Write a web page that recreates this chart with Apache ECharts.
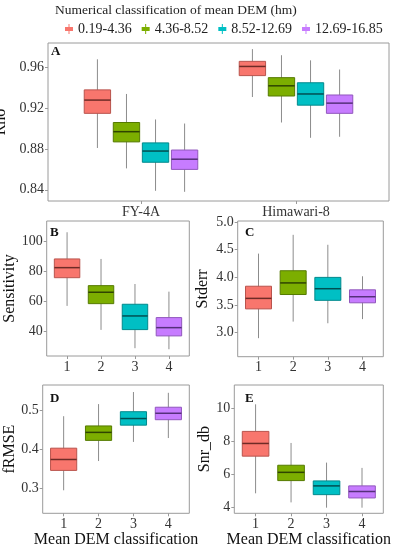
<!DOCTYPE html>
<html>
<head>
<meta charset="utf-8">
<script src="https://cdn.jsdelivr.net/npm/echarts@6.0.0/dist/echarts.min.js"></script>
<style>html,body{margin:0;padding:0;background:#fff;}#c{width:396px;height:550px;}</style>
</head>
<body>
<div id="c"></div>
<script>
// ---- data: [min, Q1, median, Q3, max] per DEM class ----
const classes = ['0.19-4.36', '4.36-8.52', '8.52-12.69', '12.69-16.85'];
const satellites = ['FY-4A', 'Himawari-8'];
const classTicks = [1, 2, 3, 4];

const rhoFY4A = [
  [0.881, 0.915, 0.928, 0.938, 0.968],
  [0.861, 0.887, 0.897, 0.906, 0.934],
  [0.839, 0.867, 0.878, 0.886, 0.909],
  [0.838, 0.860, 0.870, 0.879, 0.905]
];
const rhoHimawari = [
  [0.931, 0.952, 0.961, 0.966, 0.978],
  [0.906, 0.932, 0.942, 0.950, 0.972],
  [0.891, 0.923, 0.934, 0.945, 0.967],
  [0.892, 0.915, 0.925, 0.933, 0.958]
];
const sensitivity = [
  [56.7, 75.5, 82.2, 88.0, 105.8],
  [40.7, 58.2, 65.8, 70.2, 88.0],
  [28.5, 40.9, 50.0, 57.8, 71.3],
  [27.8, 36.7, 42.2, 48.9, 66.2]
];
const stderrVals = [
  [2.90, 3.43, 3.62, 3.84, 4.43],
  [3.20, 3.69, 3.90, 4.12, 4.77],
  [3.17, 3.585, 3.795, 4.00, 4.59],
  [3.245, 3.54, 3.65, 3.775, 4.02]
];
const frmse = [
  [0.296, 0.347, 0.375, 0.404, 0.486],
  [0.371, 0.424, 0.4445, 0.461, 0.517],
  [0.420, 0.463, 0.480, 0.4975, 0.548],
  [0.430, 0.477, 0.4935, 0.509, 0.546]
];
const snrdb = [
  [4.85, 7.10, 7.87, 8.60, 10.24],
  [4.30, 5.62, 6.12, 6.55, 7.90],
  [3.98, 4.77, 5.30, 5.60, 6.71],
  [3.98, 4.57, 4.96, 5.30, 6.39]
];

const rhoTicks = [0.84, 0.88, 0.92, 0.96];
const sensTicks = [40, 60, 80, 100];
const stderrTicks = [3.0, 3.5, 4.0, 4.5, 5.0];
const frmseTicks = [0.3, 0.4, 0.5];
const snrTicks = [4, 6, 8, 10];

// ---- styles ----
const fills = ['#F8766D', '#7CAE00', '#00BFC4', '#C77CFF'];
const borders = ['#B9544D', '#557A00', '#00898C', '#9157BD'];
const medians = ['#6E2B26', '#2F4400', '#004F52', '#55307A'];
const FONT = 'Liberation Serif';
const frameColor = '#9a9a9a';

function makeRender(boxW, ci) {
  return function (params, api) {
    const x = api.value(0);
    const mn = api.coord([x, api.value(1)]);
    const q1 = api.coord([x, api.value(2)]);
    const md = api.coord([x, api.value(3)]);
    const q3 = api.coord([x, api.value(4)]);
    const mx = api.coord([x, api.value(5)]);
    const w = api.size([boxW, 0])[0];
    const cx = mn[0];
    return {
      type: 'group',
      children: [
        { type: 'line', shape: { x1: cx, y1: mn[1], x2: cx, y2: mx[1] }, style: { stroke: '#8c8c8c', lineWidth: 1 } },
        { type: 'rect', shape: { x: cx - w / 2, y: q3[1], width: w, height: q1[1] - q3[1] }, style: { fill: fills[ci], stroke: borders[ci], lineWidth: 1 } },
        { type: 'line', shape: { x1: cx - w / 2, y1: md[1], x2: cx + w / 2, y2: md[1] }, style: { stroke: medians[ci], lineWidth: 1.5 } }
      ]
    };
  };
}

const grids = [
  { left: 48, top: 43, width: 341, height: 158 },
  { left: 46.7, top: 221, width: 142.6, height: 135 },
  { left: 237.7, top: 221, width: 145.6, height: 135.7 },
  { left: 42.7, top: 385, width: 146.6, height: 128.3 },
  { left: 234.3, top: 385, width: 149, height: 128.3 }
].map(g => Object.assign({ show: true, borderColor: frameColor, borderWidth: 1, outerBoundsMode: 'none', containLabel: false }, g));

function xAxis(idx, min, max, ticks, fmt, name) {
  return {
    type: 'value', gridIndex: idx, min: min, max: max,
    axisLine: { show: false },
    splitLine: { show: false },
    axisTick: { show: true, length: 3, lineStyle: { color: frameColor }, customValues: ticks },
    axisLabel: { fontFamily: FONT, fontSize: 14, color: '#333', margin: 4, customValues: ticks, formatter: fmt },
    name: name || '', nameLocation: 'middle', nameGap: 15,
    nameTextStyle: { fontFamily: FONT, fontSize: 16, color: '#111', verticalAlign: 'top' }
  };
}
function yAxis(idx, min, max, ticks, fmt, name, gap) {
  return {
    type: 'value', gridIndex: idx, min: min, max: max,
    axisLine: { show: false },
    splitLine: { show: false },
    axisTick: { show: true, length: 3, lineStyle: { color: frameColor }, customValues: ticks },
    axisLabel: { fontFamily: FONT, fontSize: 14, color: '#333', margin: 4, customValues: ticks, formatter: fmt },
    name: name, nameLocation: 'middle', nameGap: gap, nameRotate: 90,
    nameTextStyle: { fontFamily: FONT, fontSize: 16, color: '#111' }
  };
}

const classFmt = v => String(v);
const xAxes = [
  xAxis(0, 0.4, 2.6, [1, 2], v => satellites[Math.round(v) - 1]),
  xAxis(1, 0.4, 4.6, classTicks, classFmt),
  xAxis(2, 0.4, 4.6, classTicks, classFmt),
  xAxis(3, 0.4, 4.6, classTicks, classFmt, 'Mean DEM classification'),
  xAxis(4, 0.4, 4.6, classTicks, classFmt, 'Mean DEM classification')
];
const yAxes = [
  yAxis(0, 0.829, 0.984, rhoTicks, v => v.toFixed(2), 'Rho', 30),
  yAxis(1, 23.3, 113.3, sensTicks, v => String(v), 'Sensitivity', 27),
  yAxis(2, 2.565, 5.02, stderrTicks, v => v.toFixed(1), 'Stderr', 27),
  yAxis(3, 0.237, 0.566, frmseTicks, v => v.toFixed(1), 'fRMSE', 25),
  yAxis(4, 3.64, 11.41, snrTicks, v => String(v), 'Snr_db', 21)
];

const series = [];
const dodge = 0.1875;
classes.forEach((name, i) => {
  const off = (i - 1.5) * dodge;
  series.push({
    type: 'custom', name: name, xAxisIndex: 0, yAxisIndex: 0,
    itemStyle: { color: fills[i] },
    renderItem: makeRender(0.17, i),
    encode: { x: 0, y: [1, 2, 3, 4, 5] },
    data: [[1 + off].concat(rhoFY4A[i]), [2 + off].concat(rhoHimawari[i])]
  });
});
[sensitivity, stderrVals, frmse, snrdb].forEach((arr, k) => {
  classes.forEach((name, i) => {
    series.push({
      type: 'custom', name: name, xAxisIndex: k + 1, yAxisIndex: k + 1,
      itemStyle: { color: fills[i] },
      renderItem: makeRender(0.75, i),
      encode: { x: 0, y: [1, 2, 3, 4, 5] },
      data: [[classTicks[i]].concat(arr[i])]
    });
  });
});

const letters = [['A', 51, 52], ['B', 50, 233.5], ['C', 245, 233], ['D', 50, 399.5], ['E', 245, 399.5]];

const chart = echarts.init(document.getElementById('c'), null, { renderer: 'canvas' });
chart.setOption({
  animation: false,
  backgroundColor: '#fff',
  title: {
    text: 'Numerical classification of mean DEM (hm)', left: 50, top: -2,
    textStyle: { fontFamily: FONT, fontSize: 13.5, fontWeight: 'normal', color: '#222' }
  },
  legend: {
    data: classes, left: 60, top: 17, itemWidth: 8, itemHeight: 10, itemGap: 10,
    icon: 'path://M3.5,0H4.5V3H8V7H4.5V10H3.5V7H0V3H3.5Z',
    textStyle: { fontFamily: FONT, fontSize: 14, color: '#222' }
  },
  grid: grids,
  xAxis: xAxes,
  yAxis: yAxes,
  series: series,
  graphic: letters.map(l => ({
    type: 'text', left: l[1], top: l[2] - 7,
    style: { text: l[0], fontFamily: FONT, fontSize: 13, fontWeight: 'bold', fill: '#111' }
  }))
});
</script>
</body>
</html>
